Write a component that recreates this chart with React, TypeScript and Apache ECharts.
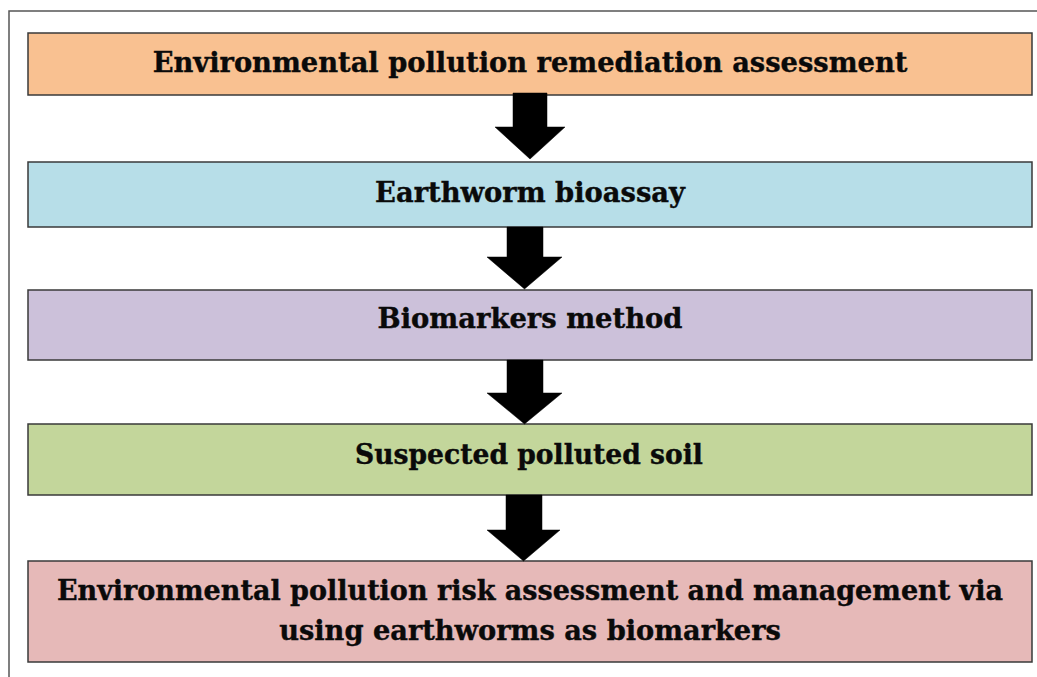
import React, { useEffect, useRef } from "react";
import * as echarts from "echarts";

// ---- Content ----
const stepLabels: string[][] = [
  ["Environmental pollution remediation assessment"],
  ["Earthworm bioassay"],
  ["Biomarkers method"],
  ["Suspected polluted soil"],
  [
    "Environmental pollution risk assessment and management via",
    "using earthworms as biomarkers",
  ],
];

// ---- Styles ----
const boxColors = ["#F9C191", "#B7DEE8", "#CCC1DA", "#C3D69B", "#E6B9B8"];
const borderColor = "#3a3a3a";
const frameColor = "#555555";
const FONT_FAMILY = '"DejaVu Serif", "Liberation Serif", serif';

// ---- Layout (pixels) ----
const boxX = 28;
const boxW = 1004;
const boxTops = [33, 162, 290, 424, 561];
const boxBottoms = [95, 227, 360, 495, 662];
// text: center x, center y for each line, target width, font size
const textLayout = [
  [{ cx: 530, cy: 62, w: 755, fs: 28 }],
  [{ cx: 530, cy: 192, w: 310, fs: 27 }],
  [{ cx: 530, cy: 318, w: 305, fs: 27 }],
  [{ cx: 529, cy: 454, w: 348, fs: 27 }],
  [
    { cx: 530, cy: 591, w: 947, fs: 27 },
    { cx: 530, cy: 631, w: 502, fs: 27 },
  ],
];
// arrows: stemL, stemR, top, headY, headL, headR, tipY
const arrowLayout = [
  [513, 547, 93, 127, 495, 565, 159],
  [507, 543, 227, 257, 487, 562, 289],
  [507, 543, 360, 393, 487, 562, 424],
  [506, 542, 495, 530, 487, 560, 561],
];

function measure(text: string, fs: number): number {
  const c = document.createElement("canvas");
  const ctx = c.getContext("2d")!;
  ctx.font = `bold ${fs}px ${FONT_FAMILY}`;
  return ctx.measureText(text).width;
}

export default function App() {
  const ref = useRef<HTMLDivElement>(null);
  useEffect(() => {
    document.body.style.margin = "0";
    const chart = echarts.init(ref.current!, undefined, { renderer: "svg" });
    const elements: any[] = [];

    // outer frame (left and top lines)
    elements.push({
      type: "polyline",
      shape: { points: [[9, 677], [9, 11], [1037, 11]] },
      style: { stroke: frameColor, lineWidth: 1.5, fill: null },
    });

    // arrows
    arrowLayout.forEach(([sl, sr, top, hy, hl, hr, tip]) => {
      const cx = (hl + hr) / 2;
      elements.push({
        type: "polygon",
        shape: {
          points: [
            [sl, top], [sr, top], [sr, hy], [hr, hy], [cx, tip], [hl, hy], [sl, hy],
          ],
        },
        style: { fill: "#000000", stroke: "#000000", lineWidth: 0.5 },
        z: 5,
      });
    });

    // boxes
    stepLabels.forEach((lines, i) => {
      elements.push({
        type: "rect",
        shape: { x: boxX, y: boxTops[i], width: boxW, height: boxBottoms[i] - boxTops[i] },
        style: { fill: boxColors[i], stroke: borderColor, lineWidth: 1.5 },
        z: 4,
      });
      lines.forEach((t, j) => {
        const L = textLayout[i][j];
        const mw = measure(t, L.fs);
        const s = mw > 0 ? L.w / mw : 1;
        elements.push({
          type: "text",
          x: L.cx,
          y: L.cy,
          scaleX: s,
          z: 6,
          style: {
            text: t,
            x: 0,
            y: 0,
            align: "center",
            verticalAlign: "middle",
            fontSize: L.fs,
            fontWeight: "bold",
            fontFamily: FONT_FAMILY,
            fill: "#0a0a0a",
            stroke: "#0a0a0a",
            lineWidth: 0.4,
          },
        });
      });
    });

    chart.setOption({
      animation: false,
      backgroundColor: "#ffffff",
      graphic: { elements },
    });
    return () => chart.dispose();
  }, []);
  return (
    <div
      ref={ref}
      style={{ position: "fixed", left: 0, top: 0, width: 1037, height: 677 }}
    />
  );
}
